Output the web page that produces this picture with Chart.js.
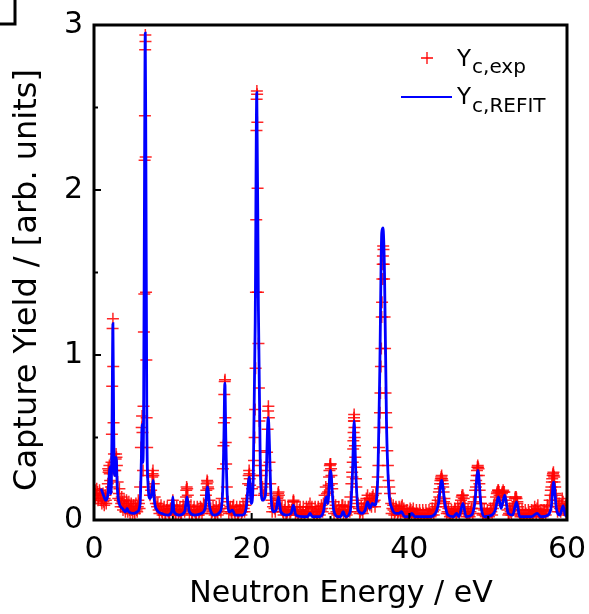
<!DOCTYPE html>
<html>
<head>
<meta charset="utf-8">
<script src="https://cdn.jsdelivr.net/npm/chart.js@4.4.1/dist/chart.umd.min.js"></script>
<style>
html,body{margin:0;padding:0;background:#fff;}
#wrap{width:589px;height:614px;}
</style>
</head>
<body>
<div id="wrap"><canvas id="c" width="589" height="614"></canvas></div>
<script>
// ---- data ----
const xTicks = [0, 20, 40, 60];
const yTicks = [0, 1, 2, 3];
const xMinorTicks = [10, 30, 50];
const yMinorTicks = [0.5, 1.5, 2.5];
const xTitle = "Neutron Energy / eV";
const yTitle = "Capture Yield / [arb. units]";
const expLabel = ["Y", "c,exp"];
const fitLabel = ["Y", "c,REFIT"];

// experimental capture yield [energy eV, yield] - resonance region points
const expPoints = [
[0.15,0.18],[0.3,0.15],[0.45,0.17],[0.6,0.13],[0.75,0.16],[0.9,0.12],[1.05,0.14],[1.2,0.11],[1.35,0.13],[1.5,0.12],
[1.65,0.17],[1.75,0.22],[1.85,0.29],[1.95,0.33],[2.05,0.24],[2.15,0.2],[2.22,0.35],[2.27,0.52],[2.31,0.81],[2.36,1.16],
[2.4,1.22],[2.44,0.93],[2.48,0.59],[2.53,0.4],[2.6,0.3],[2.7,0.3],[2.8,0.4],[2.9,0.33],[3.0,0.23],
[3.15,0.16],[3.3,0.12],[3.45,0.1],[3.6,0.11],[3.75,0.08],[3.9,0.09],[4.05,0.07],[4.2,0.1],[4.35,0.08],[4.5,0.06],
[4.65,0.08],[4.8,0.06],[4.95,0.07],[5.1,0.05],[5.25,0.08],[5.4,0.06],[5.55,0.08],[5.7,0.1],[5.85,0.2],
[5.95,0.44],[6.05,0.56],[6.1,0.63],[6.15,0.53],[6.22,0.3],[6.28,0.69],[6.33,1.14],[6.38,1.37],[6.42,2.18],[6.46,2.45],
[6.49,2.85],[6.51,2.94],[6.53,2.9],[6.56,2.2],[6.6,1.38],[6.64,0.97],[6.68,0.62],[6.74,0.44],[6.82,0.27],[6.95,0.2],
[7.1,0.15],[7.25,0.18],[7.38,0.26],[7.48,0.3],[7.58,0.22],[7.7,0.14],[7.85,0.1],[8.0,0.08],
[8.2,0.06],[8.4,0.07],[8.6,0.05],[8.8,0.06],[9.0,0.04],[9.2,0.06],[9.4,0.05],[9.6,0.04],[9.8,0.07],[10.0,0.12],
[10.2,0.06],[10.4,0.04],[10.6,0.06],[10.8,0.05],[11.0,0.04],[11.2,0.06],[11.4,0.07],[11.6,0.11],[11.75,0.2],[11.9,0.15],
[12.05,0.08],[12.2,0.06],[12.4,0.04],[12.6,0.06],[12.8,0.05],[13.0,0.04],[13.2,0.06],[13.4,0.05],[13.6,0.07],[13.8,0.06],
[14.0,0.09],[14.2,0.15],[14.35,0.24],[14.5,0.19],[14.65,0.12],[14.8,0.07],[15.0,0.05],[15.2,0.06],[15.4,0.04],[15.6,0.05],
[15.8,0.06],[16.0,0.07],[16.2,0.13],[16.35,0.31],[16.42,0.45],[16.48,0.59],[16.53,0.76],[16.58,0.84],[16.62,0.85],[16.66,0.62],
[16.71,0.47],[16.76,0.34],[16.85,0.2],[17.0,0.11],[17.2,0.07],[17.4,0.05],[17.6,0.08],[17.8,0.05],[18.0,0.06],[18.2,0.04],
[18.4,0.05],[18.6,0.06],[18.8,0.05],[19.0,0.07],[19.2,0.09],[19.4,0.13],[19.55,0.22],[19.68,0.3],[19.8,0.21],[19.92,0.15],
[20.05,0.19],[20.2,0.27],[20.3,0.36],[20.38,0.5],[20.44,0.67],[20.5,0.92],[20.54,1.38],[20.58,1.82],[20.61,2.36],[20.63,2.55],
[20.66,2.6],[20.69,2.58],[20.72,2.41],[20.75,2.01],[20.8,1.38],[20.86,1.07],[20.92,0.8],[20.98,0.6],[21.06,0.42],[21.15,0.33],
[21.25,0.27],[21.38,0.2],[21.5,0.15],[21.62,0.16],[21.75,0.22],[21.85,0.3],[21.95,0.41],[22.02,0.55],[22.08,0.66],[22.12,0.69],
[22.18,0.62],[22.26,0.35],[22.36,0.22],[22.5,0.12],[22.7,0.08],[22.9,0.07],[23.1,0.09],[23.25,0.13],[23.4,0.17],[23.55,0.12],
[23.75,0.07],[23.95,0.05],[24.15,0.06],[24.35,0.04],[24.55,0.05],[24.75,0.06],[24.95,0.05],[25.15,0.08],[25.3,0.12],[25.45,0.08],
[25.65,0.05],[25.85,0.04],[26.05,0.06],[26.25,0.04],[26.45,0.05],[26.65,0.03],[26.85,0.05],[27.05,0.06],[27.25,0.08],[27.4,0.1],
[27.55,0.07],[27.75,0.05],[27.95,0.04],[28.15,0.05],[28.35,0.03],[28.55,0.05],[28.75,0.06],[28.95,0.07],[29.1,0.1],[29.25,0.15],
[29.4,0.2],[29.55,0.16],[29.7,0.17],[29.82,0.26],[29.92,0.33],[30.02,0.34],[30.12,0.27],[30.22,0.19],[30.38,0.11],[30.55,0.07],
[30.75,0.05],[30.95,0.04],[31.15,0.05],[31.35,0.06],[31.55,0.09],[31.75,0.06],[31.95,0.04],[32.15,0.05],[32.35,0.08],[32.52,0.14],
[32.65,0.22],[32.75,0.29],[32.82,0.35],[32.88,0.43],[32.93,0.53],[32.97,0.6],[33.0,0.64],[33.04,0.56],[33.1,0.45],[33.18,0.32],
[33.28,0.2],[33.4,0.12],[33.6,0.07],[33.8,0.05],[34.0,0.06],[34.2,0.07],[34.4,0.1],[34.55,0.13],[34.7,0.15],[34.85,0.1],
[35.0,0.09],[35.15,0.12],[35.3,0.14],[35.45,0.11],[35.6,0.12],[35.75,0.16],[35.9,0.2],[36.0,0.26],[36.08,0.33],[36.15,0.44],
[36.22,0.56],[36.28,0.65],[36.34,0.77],[36.4,0.93],[36.45,1.04],[36.5,1.23],[36.54,1.32],[36.58,1.46],[36.62,1.55],[36.65,1.6],
[36.68,1.66],[36.72,1.64],[36.76,1.55],[36.8,1.46],[36.86,1.23],[36.92,1.04],[36.98,0.77],[37.05,0.65],[37.12,0.56],[37.2,0.42],
[37.28,0.33],[37.36,0.24],[37.45,0.2],[37.55,0.16],[37.7,0.1],[37.85,0.07],[38.0,0.06],[38.2,0.05],[38.4,0.06],[38.6,0.05],
[38.8,0.07],[39.0,0.08],[39.2,0.05],[39.4,0.04],[39.6,0.03],[39.8,0.04],[40.0,0.05],[40.2,0.06],[40.4,0.05],[40.6,0.04],
[40.8,0.03],[41.0,0.04],[41.2,0.03],[41.4,0.04],[41.6,0.03],[41.8,0.04],[42.0,0.03],[42.2,0.04],[42.4,0.03],[42.6,0.04],
[42.8,0.03],[43.0,0.05],[43.2,0.06],[43.4,0.08],[43.6,0.12],[43.75,0.17],[43.9,0.22],[44.0,0.25],[44.1,0.27],[44.2,0.24],
[44.3,0.2],[44.45,0.13],[44.65,0.08],[44.85,0.05],[45.05,0.04],[45.25,0.03],[45.45,0.04],[45.65,0.05],[45.85,0.06],[46.05,0.05],
[46.25,0.06],[46.45,0.1],[46.65,0.14],[46.8,0.15],[46.95,0.1],[47.15,0.05],[47.35,0.04],[47.55,0.03],[47.75,0.05],[47.95,0.07],
[48.15,0.11],[48.35,0.18],[48.48,0.24],[48.58,0.3],[48.68,0.33],[48.78,0.31],[48.88,0.22],[49.0,0.14],[49.2,0.07],[49.4,0.04],
[49.6,0.03],[49.8,0.04],[50.0,0.03],[50.2,0.04],[50.4,0.05],[50.6,0.07],[50.8,0.1],[51.0,0.14],[51.15,0.17],[51.3,0.18],
[51.45,0.15],[51.6,0.12],[51.75,0.16],[51.9,0.18],[52.05,0.17],[52.25,0.12],[52.45,0.06],[52.65,0.04],[52.85,0.05],[53.05,0.06],
[53.25,0.1],[53.45,0.14],[53.6,0.13],[53.8,0.08],[54.0,0.04],[54.2,0.03],[54.4,0.04],[54.6,0.03],[54.8,0.04],[55.0,0.03],
[55.2,0.04],[55.4,0.03],[55.6,0.04],[55.8,0.05],[56.0,0.06],[56.2,0.07],[56.4,0.05],[56.6,0.04],[56.8,0.03],[57.0,0.04],
[57.2,0.05],[57.4,0.06],[57.6,0.08],[57.8,0.12],[57.95,0.18],[58.08,0.23],[58.18,0.27],[58.28,0.29],[58.38,0.26],[58.5,0.2],
[58.7,0.12],[58.9,0.08],[59.1,0.07],[59.3,0.09],[59.5,0.11],[59.7,0.07],[59.9,0.04]
];

// experimental capture yield [energy eV, yield] - extra points between resonances
const expBackground = [
[0.2,0.13],[0.35,0.19],[0.5,0.12],[0.7,0.18],[0.85,0.15],[1.0,0.1],[1.15,0.16],[1.3,0.09],[1.45,0.15],[1.55,0.1],
[3.08,0.13],[3.22,0.19],[3.38,0.08],[3.52,0.14],[3.68,0.06],[3.82,0.12],[3.98,0.05],[4.12,0.12],[4.28,0.05],[4.42,0.11],
[4.58,0.04],[4.72,0.1],[4.88,0.04],[5.02,0.09],[5.18,0.04],[5.32,0.1],[5.48,0.05],[5.62,0.12],[5.78,0.07],
[8.1,0.1],[8.3,0.04],[8.5,0.09],[8.7,0.03],[8.9,0.08],[9.1,0.03],[9.3,0.08],[9.5,0.03],[9.7,0.07],[9.9,0.09],
[10.1,0.09],[10.3,0.03],[10.5,0.08],[10.7,0.03],[10.9,0.08],[11.1,0.03],[11.3,0.09],[11.5,0.05],[12.1,0.04],[12.3,0.09],
[12.5,0.03],[12.7,0.08],[12.9,0.03],[13.1,0.08],[13.3,0.03],[13.5,0.08],[13.7,0.04],[13.9,0.1],
[14.9,0.04],[15.1,0.08],[15.3,0.03],[15.5,0.08],[15.7,0.03],[15.9,0.09],[16.1,0.05],
[17.1,0.04],[17.3,0.08],[17.5,0.04],[17.7,0.09],[17.9,0.03],[18.1,0.08],[18.3,0.03],[18.5,0.08],[18.7,0.03],[18.9,0.09],
[19.1,0.05],[19.3,0.11],
[22.6,0.05],[22.8,0.1],[23.0,0.05],[23.85,0.08],[24.05,0.03],[24.25,0.08],[24.45,0.03],[24.65,0.08],[24.85,0.03],[25.05,0.06],
[25.55,0.04],[25.75,0.08],[25.95,0.03],[26.15,0.08],[26.35,0.03],[26.55,0.08],[26.75,0.03],[26.95,0.08],[27.15,0.04],[27.65,0.08],
[27.85,0.03],[28.05,0.08],[28.25,0.03],[28.45,0.08],[28.65,0.03],[28.85,0.09],[29.0,0.05],
[30.45,0.04],[30.65,0.09],[30.85,0.03],[31.05,0.08],[31.25,0.03],[31.45,0.09],[31.65,0.04],[31.85,0.08],[32.05,0.03],[32.25,0.08],
[32.45,0.05],
[33.5,0.1],[33.7,0.04],[33.9,0.08],[34.1,0.04],[34.3,0.1],[34.65,0.08],[34.95,0.13],[35.2,0.08],[35.4,0.15],[35.65,0.08],
[37.75,0.04],[37.95,0.09],[38.1,0.03],[38.3,0.08],[38.5,0.03],[38.7,0.08],[38.9,0.04],[39.1,0.09],[39.3,0.07],[39.5,0.02],
[39.7,0.06],[39.9,0.02],[40.1,0.07],[40.3,0.04],[40.5,0.07],[40.7,0.02],[40.9,0.06],[41.1,0.02],[41.3,0.06],[41.5,0.02],
[41.7,0.06],[41.9,0.02],[42.1,0.06],[42.3,0.02],[42.5,0.06],[42.7,0.02],[42.9,0.07],[43.1,0.03],[43.3,0.1],
[44.6,0.1],[44.75,0.04],[44.95,0.07],[45.15,0.02],[45.35,0.06],[45.55,0.02],[45.75,0.07],[45.95,0.03],[46.15,0.08],[46.35,0.04],
[47.05,0.08],[47.25,0.02],[47.45,0.06],[47.65,0.02],[47.85,0.07],[48.05,0.04],
[49.1,0.1],[49.3,0.03],[49.5,0.06],[49.7,0.02],[49.9,0.06],[50.1,0.02],[50.3,0.07],[50.5,0.03],[50.7,0.09],
[52.35,0.09],[52.55,0.03],[52.75,0.07],[52.95,0.03],[53.15,0.08],
[53.7,0.1],[53.9,0.06],[54.1,0.02],[54.3,0.06],[54.5,0.02],[54.7,0.06],[54.9,0.02],[55.1,0.06],[55.3,0.02],[55.5,0.06],
[55.7,0.02],[55.9,0.08],[56.1,0.04],[56.3,0.09],[56.5,0.03],[56.7,0.06],[56.9,0.02],[57.1,0.06],[57.3,0.03],[57.5,0.09],
[58.6,0.15],[58.8,0.05],[59.0,0.1],[59.2,0.05],[59.4,0.13],[59.6,0.06],[59.8,0.09],[59.95,0.03]
];

// experimental capture yield [energy eV, yield] - extra points on the small resonances
const expPeakExtra = [
[1.8,0.31],[1.9,0.3],[2.0,0.28],[2.75,0.37],[2.85,0.38],[7.42,0.28],[7.52,0.27],
[11.68,0.14],[11.7,0.18],[11.82,0.19],[14.25,0.18],[14.3,0.22],[14.4,0.23],[14.45,0.2],
[19.62,0.27],[19.72,0.28],[19.75,0.25],[23.3,0.14],[23.35,0.16],[23.45,0.15],[25.25,0.11],[25.35,0.11],
[29.77,0.21],[29.87,0.3],[29.97,0.34],[30.07,0.31],[30.17,0.22],
[32.78,0.26],[32.9,0.48],[32.98,0.62],[33.02,0.6],[33.07,0.5],[33.14,0.38],[33.23,0.25],
[43.8,0.14],[43.85,0.19],[43.95,0.24],[44.05,0.26],[44.15,0.25],[44.25,0.22],[44.35,0.17],[44.4,0.11],
[46.55,0.12],[46.7,0.15],[46.9,0.13],
[48.4,0.14],[48.45,0.2],[48.55,0.27],[48.63,0.32],[48.72,0.32],[48.82,0.27],[48.92,0.18],[49.05,0.1],
[51.1,0.16],[51.25,0.18],[51.38,0.17],[51.8,0.17],[51.95,0.17],[52.15,0.14],
[53.4,0.13],[53.55,0.14],[53.7,0.11],
[57.9,0.15],[58.02,0.2],[58.12,0.25],[58.22,0.28],[58.32,0.27],[58.42,0.23],[58.55,0.16]
];

// REFIT fitted capture yield [energy eV, yield]
const fitCurve = [
[0.9,0.19],[1.2,0.15],[1.5,0.12],[1.75,0.15],[1.9,0.24],[2.0,0.32],[2.1,0.16],[2.2,0.2],[2.3,0.65],[2.4,1.19],
[2.5,0.55],[2.6,0.27],[2.72,0.27],[2.82,0.38],[2.95,0.2],[3.2,0.1],[3.6,0.07],[4.0,0.05],[4.2,0.07],[4.4,0.05],
[5.0,0.04],[5.5,0.05],[5.85,0.1],[6.0,0.35],[6.1,0.58],[6.2,0.35],[6.3,0.7],[6.42,2.2],[6.5,2.95],[6.58,2.2],
[6.7,0.6],[6.85,0.22],[7.1,0.13],[7.35,0.17],[7.5,0.24],[7.65,0.12],[8.0,0.06],[8.6,0.04],[9.4,0.03],[9.85,0.05],
[10.0,0.14],[10.15,0.05],[10.8,0.03],[11.5,0.05],[11.8,0.14],[12.1,0.05],[12.8,0.03],[13.6,0.04],[14.1,0.07],[14.4,0.2],
[14.7,0.07],[15.3,0.03],[16.0,0.05],[16.3,0.15],[16.48,0.5],[16.6,0.83],[16.72,0.5],[16.9,0.15],[17.2,0.05],[17.55,0.06],
[17.9,0.03],[18.8,0.03],[19.3,0.07],[19.7,0.26],[19.95,0.1],[20.2,0.25],[20.45,1.2],[20.65,2.59],[20.85,1.3],[21.1,0.3],
[21.4,0.12],[21.75,0.15],[22.1,0.62],[22.45,0.15],[22.8,0.05],[23.1,0.06],[23.4,0.14],[23.7,0.05],[24.4,0.03],[25.0,0.04],
[25.3,0.09],[25.6,0.03],[26.5,0.02],[27.1,0.02],[27.4,0.04],[27.7,0.02],[28.6,0.02],[29.1,0.05],[29.45,0.14],[29.65,0.1],
[30.0,0.3],[30.4,0.06],[31.0,0.02],[31.3,0.02],[31.6,0.05],[31.9,0.02],[32.5,0.05],[32.8,0.3],[33.0,0.6],[33.2,0.3],
[33.5,0.06],[34.0,0.04],[34.4,0.06],[34.7,0.11],[35.0,0.07],[35.3,0.1],[35.6,0.09],[35.95,0.2],[36.25,0.9],[36.5,1.74],
[36.65,1.77],[36.85,1.5],[37.1,0.6],[37.4,0.18],[37.8,0.07],[38.3,0.04],[38.7,0.04],[39.0,0.05],[39.4,0.02],[40.0,0.02],
[40.3,0.04],[40.7,0.02],[42.5,0.02],[43.3,0.04],[43.7,0.1],[44.1,0.24],[44.5,0.1],[44.9,0.03],[45.6,0.02],[46.0,0.04],
[46.3,0.02],[46.8,0.1],[47.2,0.02],[47.9,0.03],[48.3,0.1],[48.7,0.3],[49.1,0.08],[49.5,0.02],[50.5,0.03],[50.9,0.06],
[51.3,0.14],[51.65,0.07],[52.1,0.15],[52.55,0.04],[53.1,0.03],[53.6,0.11],[54.0,0.02],[55.5,0.02],[56.2,0.04],[56.7,0.02],
[57.6,0.03],[58.0,0.08],[58.3,0.23],[58.65,0.07],[59.1,0.03],[59.5,0.085],[59.8,0.03],[60.0,0.02]
];

// ---- chart ----
const FONT = "'DejaVu Sans', 'Liberation Sans', Arial, sans-serif";

const decorPlugin = {
  id: 'decor',
  afterDatasetsDraw(chart) {
    const {ctx, chartArea: a, scales: {x, y}} = chart;
    ctx.save();
    ctx.strokeStyle = '#000';
    ctx.lineCap = 'butt';
    ctx.lineWidth = 2;
    const tick = (x1, y1, x2, y2) => { ctx.beginPath(); ctx.moveTo(x1, y1); ctx.lineTo(x2, y2); ctx.stroke(); };
    xTicks.forEach(v => { const p = x.getPixelForValue(v); tick(p, a.bottom, p, a.bottom - 7); });
    xMinorTicks.forEach(v => { const p = x.getPixelForValue(v); tick(p, a.bottom, p, a.bottom - 4); });
    yTicks.forEach(v => { const p = y.getPixelForValue(v); tick(a.left, p, a.left + 7, p); });
    yMinorTicks.forEach(v => { const p = y.getPixelForValue(v); tick(a.left, p, a.left + 4, p); });
    ctx.lineWidth = 3;
    ctx.strokeRect(a.left, a.top, a.right - a.left, a.bottom - a.top);
    ctx.beginPath(); ctx.moveTo(0, 24); ctx.lineTo(15, 24); ctx.lineTo(15, 0); ctx.stroke();
    ctx.restore();
  },
  afterDraw(chart) {
    const {ctx} = chart;
    ctx.save();
    ctx.fillStyle = '#000';
    ctx.font = '30px ' + FONT;
    ctx.textAlign = 'center';
    ctx.textBaseline = 'alphabetic';
    ctx.fillText(xTitle, 341, 602);
    ctx.save();
    ctx.font = '32px ' + FONT;
    ctx.translate(36, 280);
    ctx.rotate(-Math.PI / 2);
    ctx.fillText(yTitle, 0, 0);
    ctx.restore();
    ctx.textAlign = 'left';
    ctx.strokeStyle = '#ff0000';
    ctx.lineWidth = 1.3;
    ctx.beginPath();
    ctx.moveTo(421, 58); ctx.lineTo(433, 58);
    ctx.moveTo(427, 52); ctx.lineTo(427, 64);
    ctx.stroke();
    ctx.strokeStyle = '#0000ff';
    ctx.lineWidth = 2.2;
    ctx.beginPath(); ctx.moveTo(401, 97); ctx.lineTo(452, 97); ctx.stroke();
    const drawSub = (main, sub, x0, yb, ys) => {
      ctx.font = '23px ' + FONT;
      ctx.fillText(main, x0, yb);
      const w = ctx.measureText(main).width;
      ctx.font = '20px ' + FONT;
      ctx.fillText(sub, x0 + w + 1, ys);
    };
    drawSub(expLabel[0], expLabel[1], 457, 66, 73);
    drawSub(fitLabel[0], fitLabel[1], 457, 104, 112);
    ctx.restore();
  }
};

const expAll = expPoints.concat(expBackground, expPeakExtra);

new Chart(document.getElementById('c'), {
  type: 'scatter',
  data: {
    datasets: [
      {
        label: 'Y c,REFIT',
        data: fitCurve.map(p => ({x: p[0], y: p[1]})),
        showLine: true,
        borderColor: '#0000ff',
        borderWidth: 2.8,
        pointRadius: 0,
        cubicInterpolationMode: 'monotone',
        order: 0
      },
      {
        label: 'Y c,exp',
        data: expAll.map(p => ({x: p[0], y: p[1]})),
        showLine: false,
        pointStyle: 'cross',
        pointRadius: 6,
        pointBorderWidth: 1.5,
        borderColor: 'rgba(255,0,0,0.85)',
        backgroundColor: 'rgba(255,0,0,0.85)',
        order: 1
      }
    ]
  },
  options: {
    responsive: false,
    animation: false,
    devicePixelRatio: 1,
    layout: { padding: { left: 0, right: 22, top: 25, bottom: 0 } },
    plugins: { legend: { display: false }, tooltip: { enabled: false } },
    scales: {
      x: {
        type: 'linear', min: 0, max: 60,
        afterFit(s) { s.height = 94; s.paddingLeft = 0; s.paddingRight = 0; },
        afterBuildTicks(s) { s.ticks = xTicks.map(v => ({value: v})); },
        grid: { display: false, drawTicks: false },
        border: { display: false },
        ticks: { font: { size: 30, family: FONT }, color: '#000', padding: 12, maxRotation: 0,
                  callback: v => String(v) }
      },
      y: {
        type: 'linear', min: 0, max: 3,
        afterFit(s) { s.width = 94; s.paddingTop = 0; s.paddingBottom = 0; },
        afterBuildTicks(s) { s.ticks = yTicks.map(v => ({value: v})); },
        grid: { display: false, drawTicks: false },
        border: { display: false },
        ticks: { font: { size: 30, family: FONT }, color: '#000', padding: 11,
                  callback: v => String(v) }
      }
    }
  },
  plugins: [decorPlugin]
});
</script>
</body>
</html>
